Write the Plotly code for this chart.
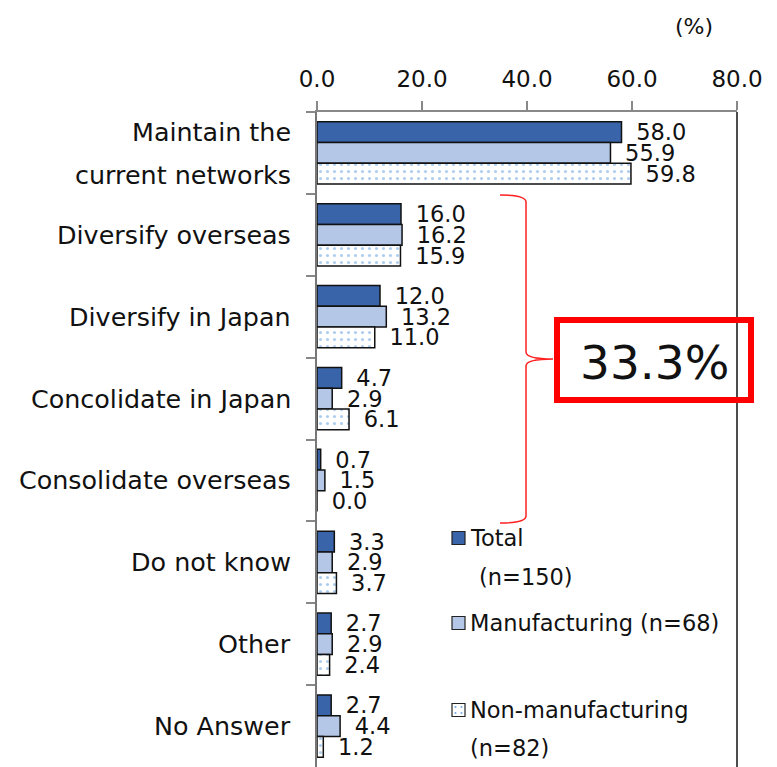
import plotly.graph_objects as go

# Survey categories (top to bottom) and shares in %
categories = [
    "Maintain the current networks",
    "Diversify overseas",
    "Diversify in Japan",
    "Concolidate in Japan",
    "Consolidate overseas",
    "Do not know",
    "Other",
    "No Answer",
]
total = [58.0, 16.0, 12.0, 4.7, 0.7, 3.3, 2.7, 2.7]
manufacturing = [55.9, 16.2, 13.2, 2.9, 1.5, 2.9, 2.9, 4.4]
non_manufacturing = [59.8, 15.9, 11.0, 6.1, 0.0, 3.7, 2.4, 1.2]

x_ticks = [0, 20, 40, 60, 80]
highlight_text = "33.3%"

FONT = "DejaVu Sans"
W, H = 777, 767
ML, MR, MT, MB = 317, 40, 112, 0
PW, PH = W - ML - MR, H - MT - MB


def px_x(p):
    return (p - ML) / PW


def px_y(p):
    return (H - MB - p) / PH


def note(text, x, y, size, xanchor="center"):
    fig.add_annotation(x=px_x(x), y=px_y(y), xref="paper", yref="paper",
                       text=text, showarrow=False, xanchor=xanchor, yanchor="middle",
                       font=dict(family=FONT, size=size, color="#111"))


fig = go.Figure()

series = [
    ("Total", total, dict(color="#3A64AA")),
    ("Manufacturing", manufacturing, dict(color="#B4C7E7")),
    ("Non-manufacturing", non_manufacturing,
     dict(color="white", pattern=dict(shape=".", fgcolor="#5E9BDB", size=7, solidity=0.16))),
]
for name, vals, mk in series:
    fig.add_trace(go.Bar(
        name=name, y=categories, x=vals, orientation="h",
        marker=dict(**mk, line=dict(color="#111", width=1.5)),
        texttemplate="\u00a0\u2009%{x:.1f}", textposition="outside",
        constraintext="none", cliponaxis=False,
        textfont=dict(family=FONT, size=22.5, color="#111"),
        showlegend=False, hoverinfo="skip",
    ))

fig.update_layout(
    width=W, height=H,
    margin=dict(l=ML, r=MR, t=MT, b=MB, pad=0),
    paper_bgcolor="white", plot_bgcolor="white",
    barmode="group", bargap=0.24, bargroupgap=0,
    font=dict(family=FONT, size=22, color="#111"),
    xaxis=dict(
        side="top", range=[0, 80], tickvals=x_ticks, tickformat=".1f",
        ticks="outside", ticklen=9, tickcolor="#888", tickwidth=1.5,
        showline=True, linecolor="#888", linewidth=2, showgrid=False,
        zeroline=False, ticklabelstandoff=5,
        tickfont=dict(family=FONT, size=23, color="#111"),
    ),
    yaxis=dict(
        autorange="reversed", showticklabels=False,
        ticks="outside", tickson="boundaries", ticklen=9, tickcolor="#888", tickwidth=1.5,
        showline=True, linecolor="#777", linewidth=2, showgrid=False,
    ),
)

# Category labels to the left of the axis
for cat in categories:
    parts = [("Maintain the", 21), ("current networks", -22)] \
        if cat == "Maintain the current networks" else [(cat, 0)]
    for txt, dy in parts:
        fig.add_annotation(x=-0.058, xref="paper", y=cat, yref="y", yshift=dy,
                           text=txt, showarrow=False, xanchor="right", yanchor="middle",
                           font=dict(family=FONT, size=25.4, color="#111"))

# Unit label
note("(%)", 694, 27, 22)

# Right frame line
fig.add_shape(type="line", xref="paper", yref="paper", x0=1, x1=1, y0=0, y1=1,
              line=dict(color="#111", width=1.5))

# Curly brace grouping the diversify/consolidate answers
p = dict(x0=px_x(500), xv=px_x(526), xp=px_x(553),
         yt=px_y(195), yt2=px_y(202), ym1=px_y(352), ym=px_y(359), ym2=px_y(366),
         yb2=px_y(516), yb=px_y(523))
brace = (f"M {p['x0']},{p['yt']} Q {p['xv']},{p['yt']} {p['xv']},{p['yt2']} "
         f"L {p['xv']},{p['ym1']} Q {p['xv']},{p['ym']} {p['xp']},{p['ym']} "
         f"Q {p['xv']},{p['ym']} {p['xv']},{p['ym2']} "
         f"L {p['xv']},{p['yb2']} Q {p['xv']},{p['yb']} {p['x0']},{p['yb']}")
fig.add_shape(type="path", xref="paper", yref="paper", path=brace,
              line=dict(color="#FF2020", width=1.5))

# Highlight box
fig.add_shape(type="rect", xref="paper", yref="paper",
              x0=px_x(557), x1=px_x(751), y0=px_y(400), y1=px_y(320),
              line=dict(color="#FF0000", width=6), fillcolor="rgba(0,0,0,0)")
note(highlight_text, 654, 362, 47)

# Legend drawn manually
legend_items = [
    (538, "#3A64AA", [("Total", 468, 538), ("(n=150)", 477, 577)]),
    (623, "#B4C7E7", [("Manufacturing (n=68)", 468, 623)]),
    (710, "white", [("Non-manufacturing", 468, 710), ("(n=82)", 468, 748)]),
]
for ky, col, lines in legend_items:
    fig.add_shape(type="rect", xref="paper", yref="paper",
                  x0=px_x(452), x1=px_x(465), y0=px_y(ky + 6.5), y1=px_y(ky - 6.5),
                  fillcolor=col, line=dict(color="#222", width=1.2))
    for txt, tx, ty in lines:
        note(txt, tx, ty, 22.5, xanchor="left")
# dots inside the non-manufacturing key
for dx, dy in ((-3, -3), (3, 3), (3, -3), (-3, 3)):
    fig.add_shape(type="rect", xref="paper", yref="paper",
                  x0=px_x(458.5 + dx - 0.8), x1=px_x(458.5 + dx + 0.8),
                  y0=px_y(710 + dy + 0.8), y1=px_y(710 + dy - 0.8),
                  fillcolor="#5E9BDB", line=dict(width=0))

fig.write_html("out.html")
